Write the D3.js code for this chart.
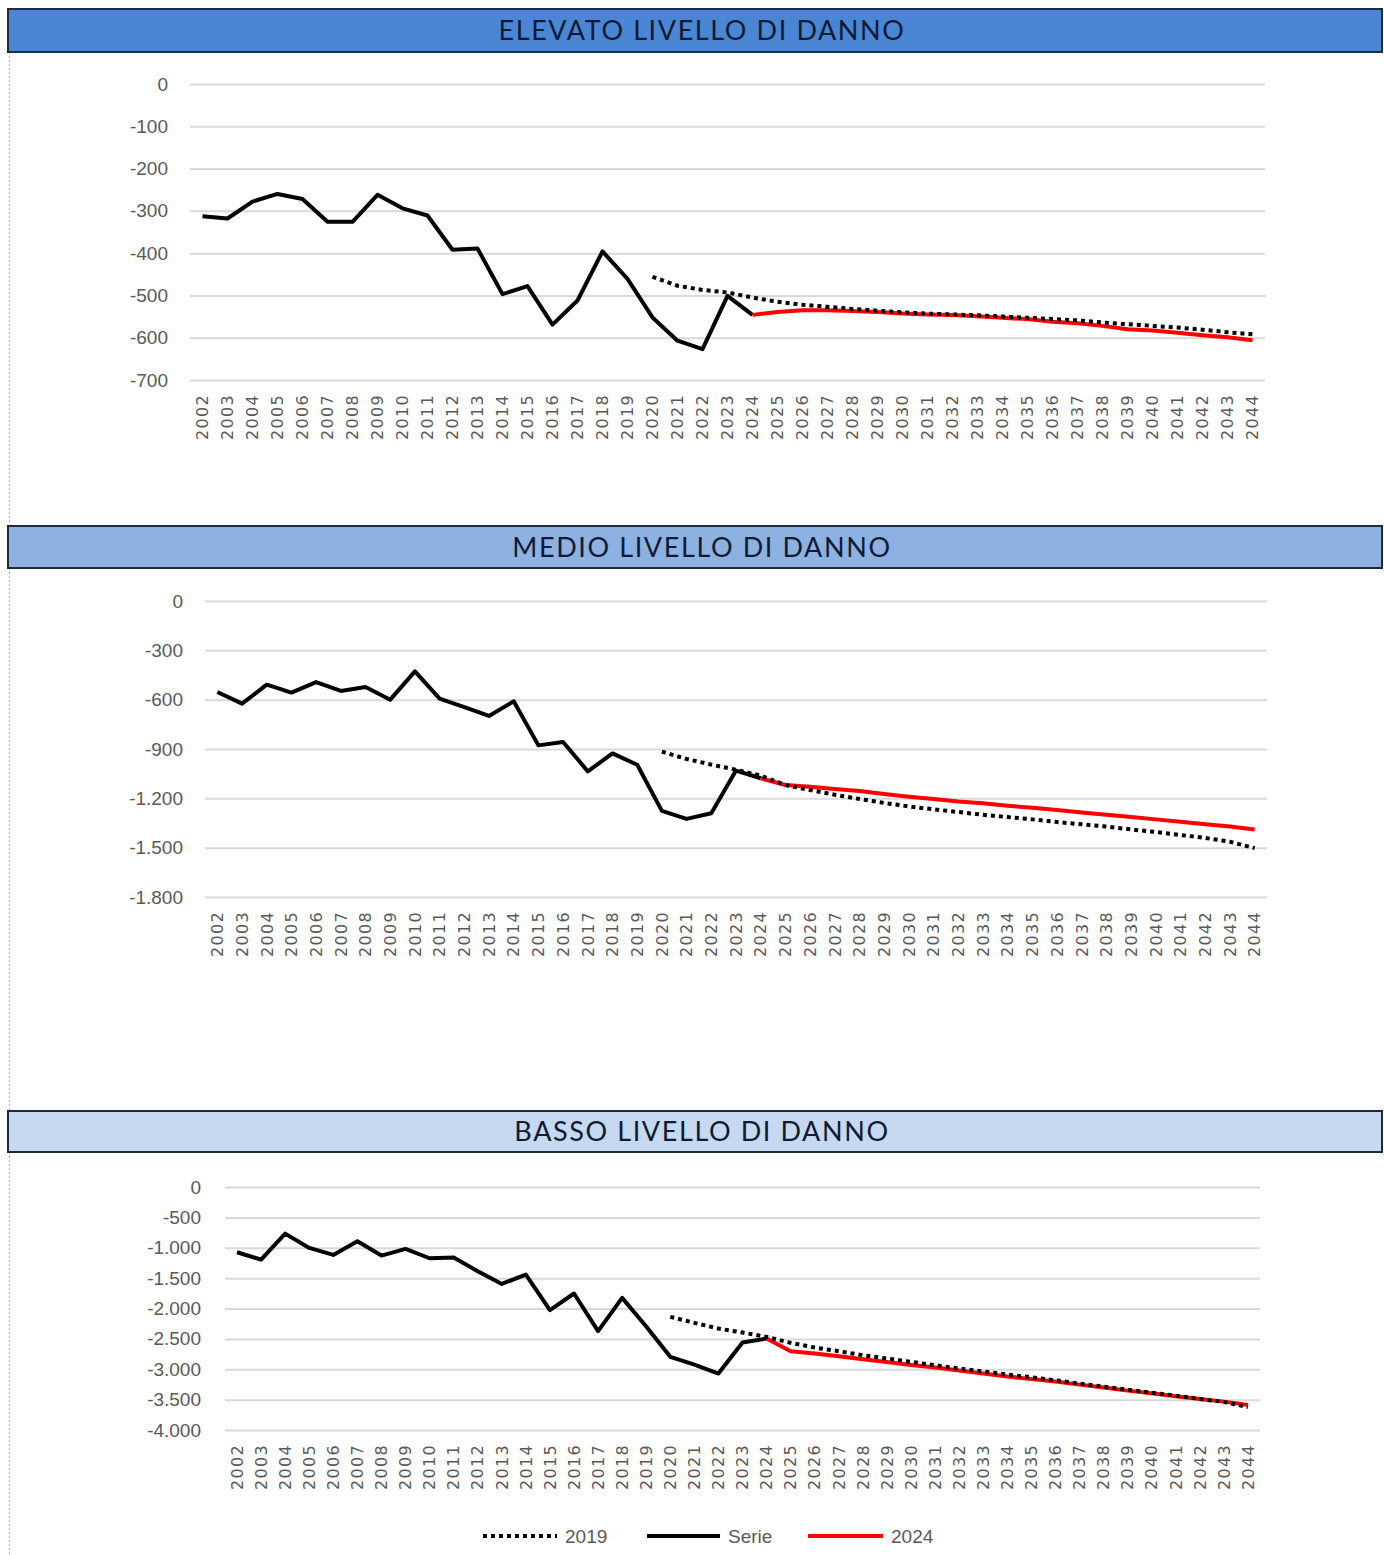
<!DOCTYPE html>
<html>
<head>
<meta charset="utf-8">
<script src="https://cdn.jsdelivr.net/npm/d3@7"></script>
<style>
  html, body { margin: 0; padding: 0; background: #ffffff; }
  svg { display: block; }
</style>
</head>
<body>
<svg id="chart" width="1384" height="1555"></svg>
<script>
// ---------- DATA ----------
const years = ["2002","2003","2004","2005","2006","2007","2008","2009","2010","2011","2012","2013","2014","2015","2016","2017","2018","2019","2020","2021","2022","2023","2024","2025","2026","2027","2028","2029","2030","2031","2032","2033","2034","2035","2036","2037","2038","2039","2040","2041","2042","2043","2044"];
const serieYears = years.slice(0, 23);   // 2002-2024
const y2019Years = years.slice(18);      // 2020-2044
const y2024Years = years.slice(22);      // 2024-2044

const panelTitles = ["ELEVATO LIVELLO DI DANNO", "MEDIO LIVELLO DI DANNO", "BASSO LIVELLO DI DANNO"];
const legendLabels = ["2019", "Serie", "2024"];

const elevatoSerie = [-313,-318,-278,-260,-272,-326,-326,-262,-294,-311,-392,-389,-497,-478,-569,-512,-396,-461,-552,-607,-627,-501,-546];
const elevato2019  = [-456,-477,-487,-493,-505,-515,-522,-527,-532,-536,-540,-543,-545,-547,-550,-553,-556,-559,-564,-568,-572,-576,-581,-587,-592];
const elevato2024  = [-546,-539,-535,-535,-537,-539,-543,-545,-546,-549,-553,-556,-562,-566,-572,-580,-583,-588,-594,-599,-606];
const elevatoTicks = [0,-100,-200,-300,-400,-500,-600,-700];

const medioSerie = [-553,-624,-509,-557,-493,-547,-523,-600,-428,-594,-645,-699,-610,-878,-857,-1036,-927,-996,-1276,-1325,-1291,-1031,-1078];
const medio2019  = [-916,-961,-995,-1026,-1062,-1119,-1150,-1178,-1204,-1228,-1249,-1267,-1283,-1300,-1314,-1328,-1344,-1358,-1372,-1389,-1405,-1423,-1441,-1464,-1503];
const medio2024  = [-1078,-1119,-1129,-1143,-1155,-1174,-1190,-1204,-1219,-1230,-1245,-1257,-1271,-1286,-1300,-1314,-1328,-1343,-1357,-1371,-1390];
const medioTicks = [0,-300,-600,-900,-1200,-1500,-1800];

const bassoSerie = [-1074,-1195,-767,-1003,-1118,-893,-1129,-1019,-1173,-1162,-1386,-1595,-1441,-2027,-1753,-2373,-1825,-2296,-2796,-2925,-3071,-2560,-2495];
const basso2019  = [-2137,-2236,-2330,-2396,-2467,-2566,-2643,-2703,-2769,-2824,-2879,-2934,-2989,-3038,-3088,-3132,-3181,-3236,-3286,-3335,-3385,-3434,-3489,-3538,-3621];
const basso2024  = [-2495,-2703,-2742,-2786,-2835,-2879,-2929,-2973,-3022,-3071,-3121,-3159,-3203,-3253,-3302,-3352,-3396,-3445,-3489,-3533,-3588];
const bassoTicks = [0,-500,-1000,-1500,-2000,-2500,-3000,-3500,-4000];

// ---------- LAYOUT ----------
const panels = [
  { title: panelTitles[0], bar: [9, 52],    fill: "#4a86d4", x: [190, 1265], y: [84, 380],   labelX: 168, ticks: elevatoTicks, serie: elevatoSerie, s2019: elevato2019, s2024: elevato2024 },
  { title: panelTitles[1], bar: [526, 568], fill: "#8db1e1", x: [205, 1267], y: [601, 897],  labelX: 183, ticks: medioTicks,   serie: medioSerie,   s2019: medio2019,   s2024: medio2024 },
  { title: panelTitles[2], bar: [1111, 1152], fill: "#c6d9f1", x: [225, 1260], y: [1187, 1430], labelX: 201, ticks: bassoTicks, serie: bassoSerie, s2019: basso2019, s2024: basso2024 }
];

const svg = d3.select("#chart");
const itFmt = d3.formatLocale({ decimal: ",", thousands: ".", grouping: [3], currency: ["€", ""], minus: "-" }).format(",d");

// left dashed page border
svg.append("line")
  .attr("x1", 9.5).attr("x2", 9.5).attr("y1", 52).attr("y2", 1555)
  .attr("stroke", "#b8b8b8").attr("stroke-width", 1).attr("stroke-dasharray", "2,2");

const tickFont = "'Liberation Sans', Arial, sans-serif";

panels.forEach(p => {
  // title bar
  svg.append("rect")
    .attr("x", 8).attr("y", p.bar[0]).attr("width", 1374).attr("height", p.bar[1] - p.bar[0])
    .attr("fill", p.fill).attr("stroke", "#1d2a40").attr("stroke-width", 2);
  svg.append("text")
    .attr("x", 702).attr("y", (p.bar[0] + p.bar[1]) / 2 + 9.5)
    .attr("text-anchor", "middle")
    .attr("font-family", "Lato, 'Noto Sans', sans-serif")
    .attr("font-size", 27).attr("letter-spacing", 1.6)
    .attr("fill", "#101b33")
    .text(p.title);

  const x = d3.scaleBand().domain(years).range(p.x).padding(0);
  const cx = d => x(d) + x.bandwidth() / 2;
  const yMin = d3.min(p.ticks);
  const y = d3.scaleLinear().domain([yMin, 0]).range([p.y[1], p.y[0]]);

  // gridlines + y labels (via d3 axis)
  const yAxis = d3.axisLeft(y).tickValues(p.ticks).tickFormat(itFmt)
    .tickSize(-(p.x[1] - p.x[0])).tickPadding(p.x[0] - p.labelX);
  const gy = svg.append("g").attr("transform", `translate(${p.x[0]},0)`).call(yAxis);
  gy.select(".domain").remove();
  gy.selectAll(".tick line").attr("stroke", "#d9d9d9").attr("stroke-width", 2);
  gy.selectAll(".tick text").attr("font-family", tickFont).attr("font-size", 19).attr("fill", "#595959");

  // x axis labels, rotated
  const xAxis = d3.axisBottom(x).tickSize(0).tickPadding(0);
  const gx = svg.append("g").attr("transform", `translate(0,${p.y[1]})`).call(xAxis);
  gx.select(".domain").remove();
  gx.selectAll(".tick text")
    .attr("font-family", "'DejaVu Sans', Verdana, sans-serif")
    .attr("font-size", 16).attr("letter-spacing", 1.3).attr("fill", "#595959")
    .attr("text-anchor", "end")
    .attr("transform", "rotate(-90)")
    .attr("x", -14).attr("y", 0).attr("dy", "0.36em");

  const line = d3.line().x(d => cx(d[0])).y(d => y(d[1]));

  svg.append("path")
    .datum(serieYears.map((yr, i) => [yr, p.serie[i]]))
    .attr("d", line).attr("fill", "none").attr("stroke", "#000").attr("stroke-width", 4)
    .attr("stroke-linejoin", "round");
  svg.append("path")
    .datum(y2024Years.map((yr, i) => [yr, p.s2024[i]]))
    .attr("d", line).attr("fill", "none").attr("stroke", "#ff0000").attr("stroke-width", 4)
    .attr("stroke-linejoin", "round");
  svg.append("path")
    .datum(y2019Years.map((yr, i) => [yr, p.s2019[i]]))
    .attr("d", line).attr("fill", "none").attr("stroke", "#000").attr("stroke-width", 4)
    .attr("stroke-dasharray", "4,4");
});

// legend
const legend = [
  { label: legendLabels[0], x1: 483, x2: 557, color: "#000", dash: "4,4" },
  { label: legendLabels[1], x1: 647, x2: 720, color: "#000", dash: null },
  { label: legendLabels[2], x1: 808, x2: 883, color: "#ff0000", dash: null }
];
const lg = svg.append("g");
legend.forEach(l => {
  lg.append("line").attr("x1", l.x1).attr("x2", l.x2).attr("y1", 1536).attr("y2", 1536)
    .attr("stroke", l.color).attr("stroke-width", 4).attr("stroke-dasharray", l.dash);
  lg.append("text").attr("x", l.x2 + 8).attr("y", 1543)
    .attr("font-family", tickFont).attr("font-size", 19).attr("fill", "#595959")
    .text(l.label);
});
</script>
</body>
</html>
